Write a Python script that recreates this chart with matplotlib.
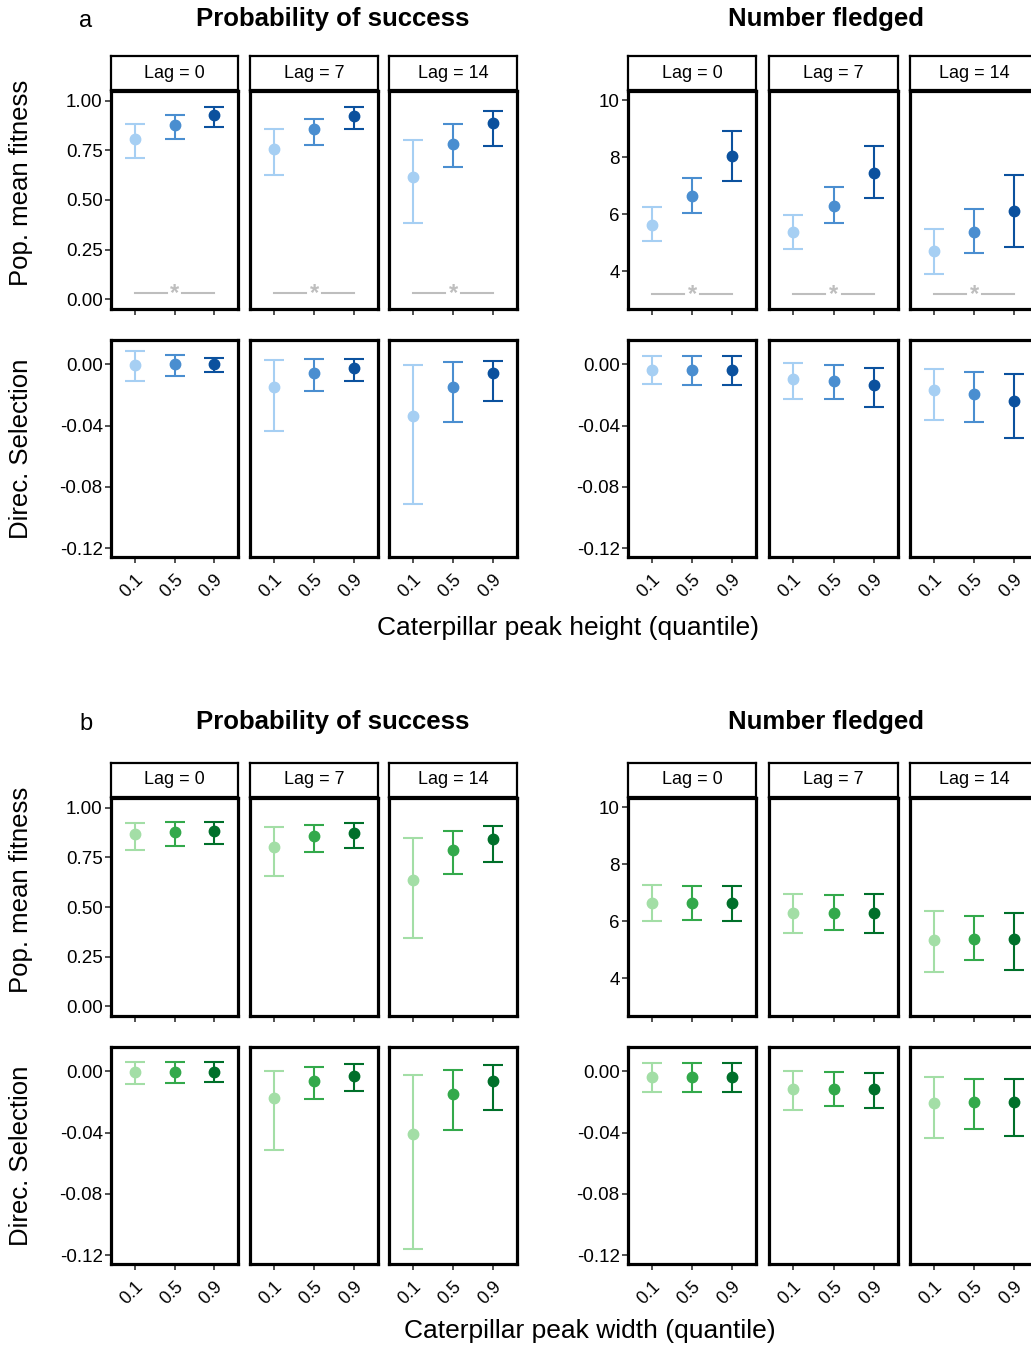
import numpy as np
import matplotlib.pyplot as plt

plt.rcParams['font.family'] = ['Liberation Sans', 'DejaVu Sans']

W, H = 1031, 1347

quantiles = ["0.1", "0.5", "0.9"]
lag_labels = ["Lag = 0", "Lag = 7", "Lag = 14"]

# (a) caterpillar peak height
height_prob_mean = [[0.806, 0.878, 0.931], [0.755, 0.856, 0.923], [0.614, 0.785, 0.891]]
height_prob_lo = [[0.710, 0.810, 0.869], [0.626, 0.777, 0.856], [0.383, 0.665, 0.773]]
height_prob_hi = [[0.883, 0.928, 0.970], [0.856, 0.911, 0.967], [0.802, 0.881, 0.950]]
height_fled_mean = [[5.62, 6.64, 8.03], [5.37, 6.29, 7.46], [4.71, 5.37, 6.13]]
height_fled_lo = [[5.06, 6.06, 7.17], [4.78, 5.68, 6.56], [3.90, 4.63, 4.84]]
height_fled_hi = [[6.27, 7.27, 8.93], [5.98, 6.94, 8.40], [5.47, 6.19, 7.38]]
height_prob_sel_mean = [[-0.0004, 0.0, 0.0], [-0.0149, -0.0058, -0.0022], [-0.0336, -0.0145, -0.0058]]
height_prob_sel_lo = [[-0.0106, -0.0074, -0.0048], [-0.0438, -0.0173, -0.0106], [-0.0912, -0.0375, -0.0236]]
height_prob_sel_hi = [[0.0089, 0.0063, 0.0043], [0.0026, 0.0032, 0.0032], [-0.0002, 0.0013, 0.0022]]
height_fled_sel_mean = [[-0.0035, -0.0035, -0.0037], [-0.0097, -0.0110, -0.0132], [-0.0169, -0.0195, -0.0238]]
height_fled_sel_lo = [[-0.0130, -0.0132, -0.0134], [-0.0223, -0.0227, -0.0277], [-0.0363, -0.0376, -0.0482]]
height_fled_sel_hi = [[0.0056, 0.0056, 0.0056], [0.0006, -0.0004, -0.0022], [-0.0028, -0.0052, -0.0065]]

# (b) caterpillar peak width
width_prob_mean = [[0.866, 0.878, 0.881], [0.804, 0.856, 0.873], [0.637, 0.786, 0.841]]
width_prob_lo = [[0.789, 0.809, 0.818], [0.656, 0.779, 0.798], [0.346, 0.666, 0.729]]
width_prob_hi = [[0.923, 0.928, 0.930], [0.903, 0.913, 0.923], [0.849, 0.883, 0.908]]
width_fled_mean = [[6.64, 6.65, 6.64], [6.28, 6.29, 6.28], [5.34, 5.38, 5.37]]
width_fled_lo = [[6.02, 6.06, 6.02], [5.58, 5.68, 5.59], [4.21, 4.63, 4.29]]
width_fled_hi = [[7.27, 7.25, 7.25], [6.97, 6.92, 6.94], [6.35, 6.20, 6.29]]
width_prob_sel_mean = [[-0.0007, -0.0002, -0.0002], [-0.0176, -0.0061, -0.0028], [-0.0409, -0.0148, -0.0061]]
width_prob_sel_lo = [[-0.0085, -0.0076, -0.0072], [-0.0511, -0.0178, -0.0126], [-0.1159, -0.0380, -0.0250]]
width_prob_sel_hi = [[0.0063, 0.0059, 0.0059], [0.0002, 0.0028, 0.0050], [-0.0026, 0.0011, 0.0039]]
width_fled_sel_mean = [[-0.0037, -0.0037, -0.0037], [-0.0115, -0.0112, -0.0115], [-0.0205, -0.0199, -0.0201]]
width_fled_sel_lo = [[-0.0134, -0.0134, -0.0134], [-0.0253, -0.0227, -0.0242], [-0.0437, -0.0378, -0.0422]]
width_fled_sel_hi = [[0.0054, 0.0054, 0.0054], [0.0000, -0.0006, -0.0011], [-0.0039, -0.0050, -0.0050]]

# significance bars (only panel a, top row)
sig_prob_y = 0.03
sig_fled_y = 3.2

blues = ['#a6cff3', '#4a8ed0', '#0b519e']
greens = ['#a3dea6', '#33a94b', '#00702a']

prob_ticks = [0.0, 0.25, 0.5, 0.75, 1.0]
fled_ticks = [4, 6, 8, 10]
sel_ticks = [0.0, -0.04, -0.08, -0.12]

fig = plt.figure(figsize=(W / 100, H / 100), dpi=100)


def add_px(x0, y0, x1, y1):
    return fig.add_axes([x0 / W, 1 - y1 / H, (x1 - x0) / W, (y1 - y0) / H])


def panel(box, mean, lo, hi, colors, ylim, ticks, show_y, show_x, sig=None):
    ax = add_px(*box)
    x = np.arange(1, len(quantiles) + 1)
    for i in range(len(x)):
        ax.errorbar(x[i], mean[i], yerr=[[mean[i] - lo[i]], [hi[i] - mean[i]]],
                    fmt='o', color=colors[i], ms=7.5, capsize=7.2,
                    elinewidth=1.5, capthick=1.5, zorder=3)
    if sig is not None:
        ax.plot([x[0], x[1] - 0.2], [sig, sig], color='#bebebe', lw=1.5)
        ax.plot([x[1] + 0.2, x[2]], [sig, sig], color='#bebebe', lw=1.5)
        ax.text(x[1], sig, '*', color='#bebebe', fontsize=17,
                ha='center', va='center', fontweight='bold')
    ax.set_xlim(0.4, 3.6)
    ax.set_ylim(*ylim)
    ax.set_xticks(x)
    if show_x:
        ax.set_xticklabels(quantiles, rotation=45, ha='right', va='top',
                           rotation_mode='anchor', fontsize=13)
    else:
        ax.set_xticklabels([])
    if show_y:
        ax.set_yticks(ticks)
        ax.set_yticklabels([f"{t:.2f}" if isinstance(t, float) else str(t) for t in ticks],
                           fontsize=13.5)
    else:
        ax.set_yticks([])
    for s in ax.spines.values():
        s.set_linewidth(2.3)
        s.set_color('black')
    ax.tick_params(axis='y', length=4, width=1.2, pad=2, color='#333333')
    ax.tick_params(axis='x', length=4, width=1.2, pad=6, color='#333333')
    return ax


def strip(box, label):
    ax = add_px(*box)
    ax.set_xticks([])
    ax.set_yticks([])
    for s in ax.spines.values():
        s.set_linewidth(1.6)
    ax.text(0.5, 0.5, label, ha='center', va='center', fontsize=13,
            transform=ax.transAxes)


left_x = [(111, 238), (250, 378), (389, 517)]
right_x = [(628, 756), (769, 898), (910, 1038)]


def section(top, colors, prob, fled, prob_sel, fled_sel, with_sig):
    strip_top, strip_bot = top, top + 34
    r1 = (top + 35, top + 253)
    r2 = (top + 284, top + 501)
    for k, (xs, data, sel, ylim, ticks, sig) in enumerate([
            (left_x, prob, prob_sel, (-0.05, 1.05), prob_ticks, sig_prob_y),
            (right_x, fled, fled_sel, (2.68, 10.32), fled_ticks, sig_fled_y)]):
        for j, (x0, x1) in enumerate(xs):
            strip((x0, strip_top, x1, strip_bot), lag_labels[j])
            panel((x0, r1[0], x1, r1[1]), data[0][j], data[1][j], data[2][j], colors,
                  ylim, ticks, j == 0, False, sig if with_sig else None)
            panel((x0, r2[0], x1, r2[1]), sel[0][j], sel[1][j], sel[2][j], colors,
                  (-0.1257, 0.0159), sel_ticks, j == 0, True)
    fig.text(21 / W, 1 - (strip_top + r1[1]) / 2 / H, 'Pop. mean fitness', rotation=90,
             ha='center', va='center', fontsize=18.5)
    fig.text(21 / W, 1 - sum(r2) / 2 / H, 'Direc. Selection', rotation=90,
             ha='center', va='center', fontsize=18.5)


section(56, blues,
        (height_prob_mean, height_prob_lo, height_prob_hi),
        (height_fled_mean, height_fled_lo, height_fled_hi),
        (height_prob_sel_mean, height_prob_sel_lo, height_prob_sel_hi),
        (height_fled_sel_mean, height_fled_sel_lo, height_fled_sel_hi), True)
section(763, greens,
        (width_prob_mean, width_prob_lo, width_prob_hi),
        (width_fled_mean, width_fled_lo, width_fled_hi),
        (width_prob_sel_mean, width_prob_sel_lo, width_prob_sel_hi),
        (width_fled_sel_mean, width_fled_sel_lo, width_fled_sel_hi), False)

for ytop, letter in [(21, 'a'), (724, 'b')]:
    fig.text(86 / W, 1 - ytop / H, letter, ha='center', va='center', fontsize=17)
    fig.text(333 / W, 1 - (ytop - 2) / H, 'Probability of success', ha='center', va='center',
             fontsize=18.5, fontweight='bold')
    fig.text(826 / W, 1 - (ytop - 2) / H, 'Number fledged', ha='center', va='center',
             fontsize=18.5, fontweight='bold')

fig.text(568 / W, 1 - 628 / H, 'Caterpillar peak height (quantile)', ha='center', va='center',
         fontsize=19)
fig.text(590 / W, 1 - 1331 / H, 'Caterpillar peak width (quantile)', ha='center', va='center',
         fontsize=19)

fig.savefig('out.png', dpi=100, facecolor='white')
